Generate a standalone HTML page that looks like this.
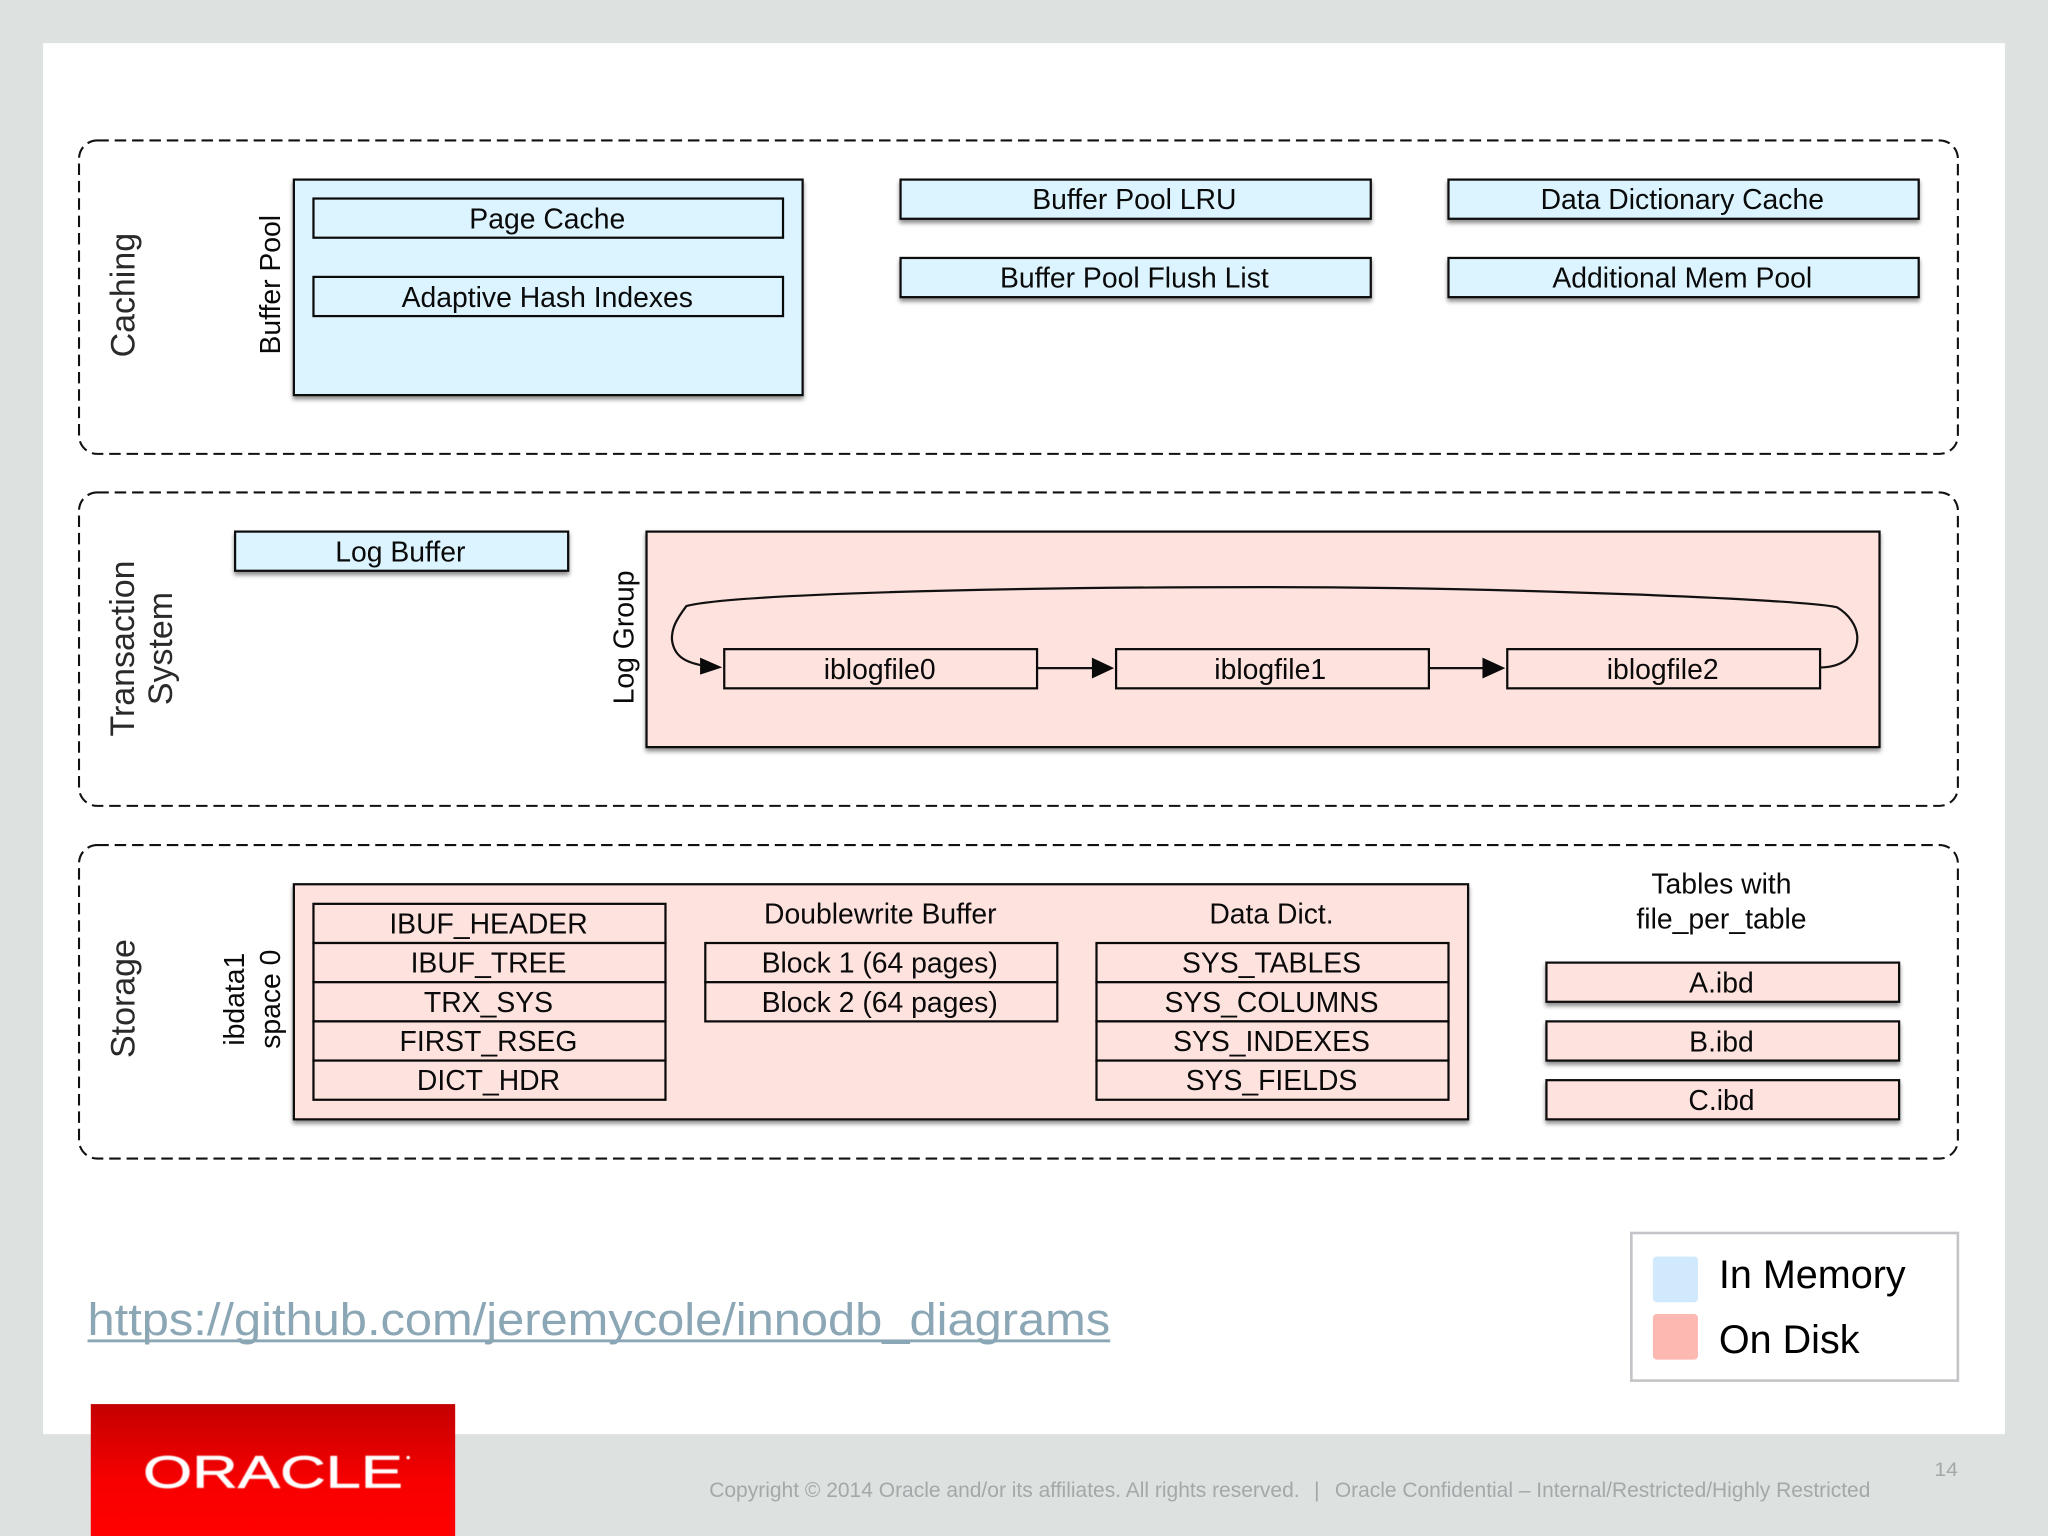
<!DOCTYPE html>
<html><head><meta charset="utf-8"><style>
html,body{margin:0;padding:0;background:#dde2e1}
svg{display:block}
text{font-family:"Liberation Sans",sans-serif;fill:#0a0a0a;font-size:21.7px}
.c{text-anchor:middle}
.b{fill:#dbf4ff;stroke:#0a0a0a;stroke-width:1.7}
.p{fill:#fee2de;stroke:#0a0a0a;stroke-width:1.7}
.d{fill:none;stroke:#111;stroke-width:1.6;stroke-dasharray:8.8 4.5}
.l{fill:none;stroke:#111;stroke-width:1.7}
.r{font-size:26px;fill:#2a2a2a}
</style></head><body>
<svg width="2048" height="1536" viewBox="0 0 1568 1176" xmlns="http://www.w3.org/2000/svg">
<defs>
<filter id="s" x="-5%" y="-20%" width="110%" height="150%"><feDropShadow dx="0" dy="2.5" stdDeviation="1.6" flood-color="#000" flood-opacity=".45"/></filter>
<filter id="bl" x="-5%" y="-20%" width="110%" height="140%"><feGaussianBlur stdDeviation="0.5"/></filter>
<linearGradient id="g" x1="0" y1="0" x2="0" y2="1"><stop offset="0" stop-color="#c40000"/><stop offset=".6" stop-color="#f80000"/><stop offset="1" stop-color="#ff0000"/></linearGradient>
</defs>
<rect width="1568" height="1176" fill="#dde2e1"/>
<rect x="33" y="33" width="1502" height="1065" fill="#fff"/>

<rect class="d" x="60.5" y="107.5" width="1438.500" height="240" rx="14"/>
<rect class="d" x="60.5" y="377" width="1438.500" height="240" rx="14"/>
<rect class="d" x="60.5" y="647" width="1438.500" height="240" rx="14"/>

<text class="c r" transform="translate(103,226) rotate(-90)">Caching</text>
<text class="c" transform="translate(214.5,218) rotate(-90)">Buffer Pool</text>
<text class="c r" transform="translate(102.500,496.500) rotate(-90)">Transaction</text>
<text class="c r" transform="translate(131.500,496.500) rotate(-90)">System</text>
<text class="c" transform="translate(485,488) rotate(-90)">Log Group</text>
<text class="c r" transform="translate(103,764.500) rotate(-90)">Storage</text>
<text class="c" transform="translate(187,765) rotate(-90)">ibdata1</text>
<text class="c" transform="translate(214.500,765) rotate(-90)">space 0</text>

<g filter="url(#s)">
<rect class="b" x="225" y="137.5" width="389.5" height="165"/>
<rect class="b" x="689.5" y="137.5" width="360" height="30"/>
<rect class="b" x="689.5" y="197.5" width="360" height="30"/>
<rect class="b" x="1109" y="137.5" width="360" height="30"/>
<rect class="b" x="1109" y="197.5" width="360" height="30"/>
<rect class="b" x="180" y="407" width="255" height="30"/>
<rect class="p" x="495" y="407" width="944" height="165"/>
<rect class="p" x="225" y="677" width="899" height="180"/>
<rect class="p" x="1184" y="737" width="270" height="30"/>
<rect class="p" x="1184" y="782" width="270" height="30"/>
<rect class="p" x="1184" y="827" width="270" height="30"/>
</g>

<rect class="b" x="240" y="152" width="359.500" height="30"/>
<rect class="b" x="240" y="212" width="359.500" height="30"/>
<text class="c" x="419" y="175">Page Cache</text>
<text class="c" x="419" y="235">Adaptive Hash Indexes</text>
<text class="c" x="868.5" y="160">Buffer Pool LRU</text>
<text class="c" x="868.5" y="220">Buffer Pool Flush List</text>
<text class="c" x="1288" y="160">Data Dictionary Cache</text>
<text class="c" x="1288" y="220">Additional Mem Pool</text>
<text class="c" x="306.5" y="430">Log Buffer</text>

<rect class="p" x="554.5" y="497" width="239.500" height="30"/>
<rect class="p" x="854.5" y="497" width="239.500" height="30"/>
<rect class="p" x="1154" y="497" width="239.500" height="30"/>
<text class="c" x="673.500" y="520">iblogfile0</text>
<text class="c" x="972.500" y="520">iblogfile1</text>
<text class="c" x="1273" y="520">iblogfile2</text>
<path class="l" d="M794 511.5H838M1094 511.5H1138"/>
<path d="M836 503.5L853 511.5L836 519.5Z M1135 503.5L1152.5 511.5L1135 519.5Z M536 503.5L553 511L536 516.5Z" fill="#0a0a0a"/>
<path class="l" d="M1393.500 511C1410 511 1422 502 1422 488.5C1422 479 1415 470 1406.5 465C1385 459 1150 449.5 968 449.5C760 449.5 560 455 525.5 464C518 474 514 481 514.5 490C516 502 524 507 538 509.5"/>

<rect class="p" x="240" y="692" width="269.500" height="30"/>
<rect class="p" x="240" y="722" width="269.500" height="30"/>
<rect class="p" x="240" y="752" width="269.500" height="30"/>
<rect class="p" x="240" y="782" width="269.500" height="30"/>
<rect class="p" x="240" y="812" width="269.500" height="30"/>
<text class="c" x="374" y="714.700">IBUF_HEADER</text>
<text class="c" x="374" y="744.700">IBUF_TREE</text>
<text class="c" x="374" y="774.700">TRX_SYS</text>
<text class="c" x="374" y="804.700">FIRST_RSEG</text>
<text class="c" x="374" y="834.700">DICT_HDR</text>

<text class="c" x="674" y="707">Doublewrite Buffer</text>
<rect class="p" x="540" y="722" width="269.500" height="30"/>
<rect class="p" x="540" y="752" width="269.500" height="30"/>
<text class="c" x="673.500" y="744.700">Block 1 (64 pages)</text>
<text class="c" x="673.500" y="774.700">Block 2 (64 pages)</text>

<text class="c" x="973.5" y="707">Data Dict.</text>
<rect class="p" x="839.500" y="722" width="269.500" height="30"/>
<rect class="p" x="839.500" y="752" width="269.500" height="30"/>
<rect class="p" x="839.500" y="782" width="269.500" height="30"/>
<rect class="p" x="839.500" y="812" width="269.500" height="30"/>
<text class="c" x="973.500" y="744.700">SYS_TABLES</text>
<text class="c" x="973.500" y="774.700">SYS_COLUMNS</text>
<text class="c" x="973.500" y="804.700">SYS_INDEXES</text>
<text class="c" x="973.500" y="834.700">SYS_FIELDS</text>

<text class="c" x="1318" y="684">Tables with</text>
<text class="c" x="1318" y="711">file_per_table</text>
<text class="c" x="1318" y="760">A.ibd</text>
<text class="c" x="1318" y="805">B.ibd</text>
<text class="c" x="1318" y="850">C.ibd</text>

<rect x="1249" y="944" width="250" height="113" fill="#fff" stroke="#c4c4c8" stroke-width="2"/>
<rect x="1265.5" y="962" width="34.500" height="35" rx="3" fill="#d0e9fd"/>
<rect x="1265.5" y="1006" width="34.500" height="35" rx="3" fill="#feb8b2"/>
<text x="1316" y="986" style="font-size:30.3px;fill:#000">In Memory</text>
<text x="1316" y="1036" style="font-size:30.3px;fill:#000">On Disk</text>

<text x="67" y="1022" textLength="783" lengthAdjust="spacingAndGlyphs" style="font-size:35px;fill:#8ba6b4">https://github.com/jeremycole/innodb_diagrams</text>
<rect x="67" y="1025.5" width="783" height="2.2" fill="#8ba6b4"/>

<rect x="69.500" y="1075" width="279" height="101" fill="url(#g)"/>
<g filter="url(#bl)">
<text x="109.500" y="1139" textLength="199" lengthAdjust="spacingAndGlyphs" style="font-size:35px;fill:#fff;stroke:#fff;stroke-width:.5">ORACLE</text>
<circle cx="312.500" cy="1116" r="1.300" fill="#fff"/>
</g>

<text x="543" y="1146" textLength="452" lengthAdjust="spacingAndGlyphs" style="font-size:16.500px;fill:#a3a8a8">Copyright © 2014 Oracle and/or its affiliates. All rights reserved.</text>
<text x="1006" y="1146" style="font-size:16.500px;fill:#a3a8a8">|</text>
<text x="1022" y="1146" textLength="410" lengthAdjust="spacingAndGlyphs" style="font-size:16.500px;fill:#a3a8a8">Oracle Confidential – Internal/Restricted/Highly Restricted</text>
<text x="1481" y="1130" textLength="18" lengthAdjust="spacingAndGlyphs" style="font-size:15px;fill:#a3a8a8">14</text>
</svg>
</body></html>
